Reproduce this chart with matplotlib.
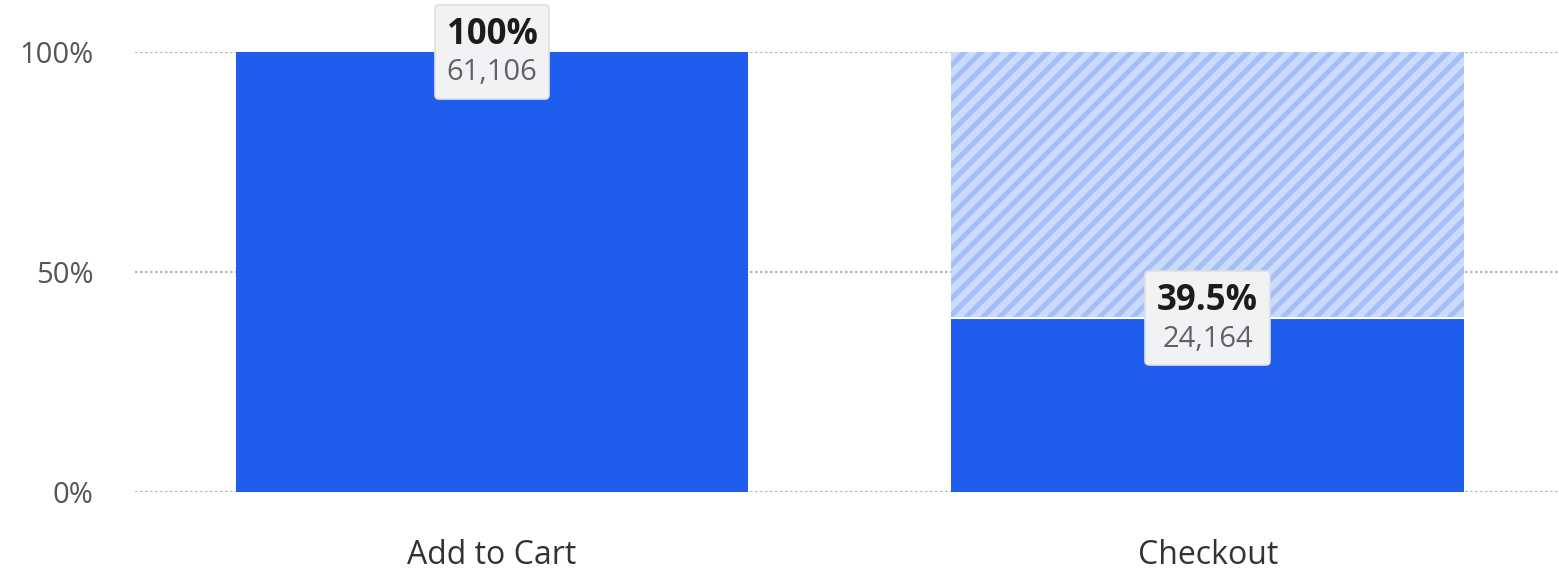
import matplotlib
matplotlib.use("Agg")
import matplotlib.pyplot as plt
from matplotlib.offsetbox import TextArea, VPacker, AnnotationBbox

steps   = ["Add to Cart", "Checkout"]
pct     = [100.0, 39.5]
counts  = [61106, 24164]
yticks  = [0, 50, 100]

BLUE    = "#1f5eed"
HATCH_BG = "#ccdafb"
HATCH_FG = "#a3bff6"

plt.rcParams["font.family"] = ["Open Sans", "DejaVu Sans"]
plt.rcParams["hatch.linewidth"] = 3.6

fig = plt.figure(figsize=(15.59, 5.75), dpi=100)
ax = fig.add_axes([0.0866, 0.1443, 0.9134, 0.7652])

x = list(range(len(steps)))
# dropped-off portion (hatched) above each step
ax.bar(x, [100 - p for p in pct], bottom=pct, width=0.716, color=HATCH_BG,
       edgecolor=HATCH_FG, hatch="//", linewidth=0, zorder=2)
ax.bar(x, pct, width=0.716, color=BLUE, linewidth=0, zorder=3)
# thin white seam where the kept part meets the dropped part
for xi, p in zip(x, pct):
    if p < 100:
        ax.hlines(p, xi - 0.358, xi + 0.358, color="white", lw=1.5, zorder=4)

for xi, p, c in zip(x, pct, counts):
    top = TextArea(f"{p:g}%", textprops=dict(fontsize=25, fontweight="bold", color="#1c1c1c"))
    bot = TextArea(f"{c:,}", textprops=dict(fontsize=21, color="#606266"))
    box = VPacker(children=[top, bot], align="center", pad=0, sep=4)
    ab = AnnotationBbox(box, (xi, p), frameon=True, pad=0.4, zorder=5,
                        bboxprops=dict(boxstyle="round,pad=0.85,rounding_size=0.3",
                                       fc="#f1f2f4", ec="#dedfe2", lw=1.2))
    ax.add_artist(ab)

ax.set_xlim(-0.499, 1.491)
ax.set_ylim(0, 100)
ax.set_yticks(yticks)
ax.set_yticklabels([f"{t}%" for t in yticks], fontsize=21, color="#555555")
ax.set_xticks(x)
ax.set_xticklabels(steps, fontsize=23, color="#333333")
ax.tick_params(axis="y", length=0, pad=30)
ax.tick_params(axis="x", length=0, pad=34)
ax.grid(axis="y", color="#b5b5b5", linestyle=(0, (1.2, 1.2)), linewidth=1.5, zorder=0)
ax.set_axisbelow(True)
for s in ax.spines.values():
    s.set_visible(False)

fig.savefig("out.png", dpi=100)
